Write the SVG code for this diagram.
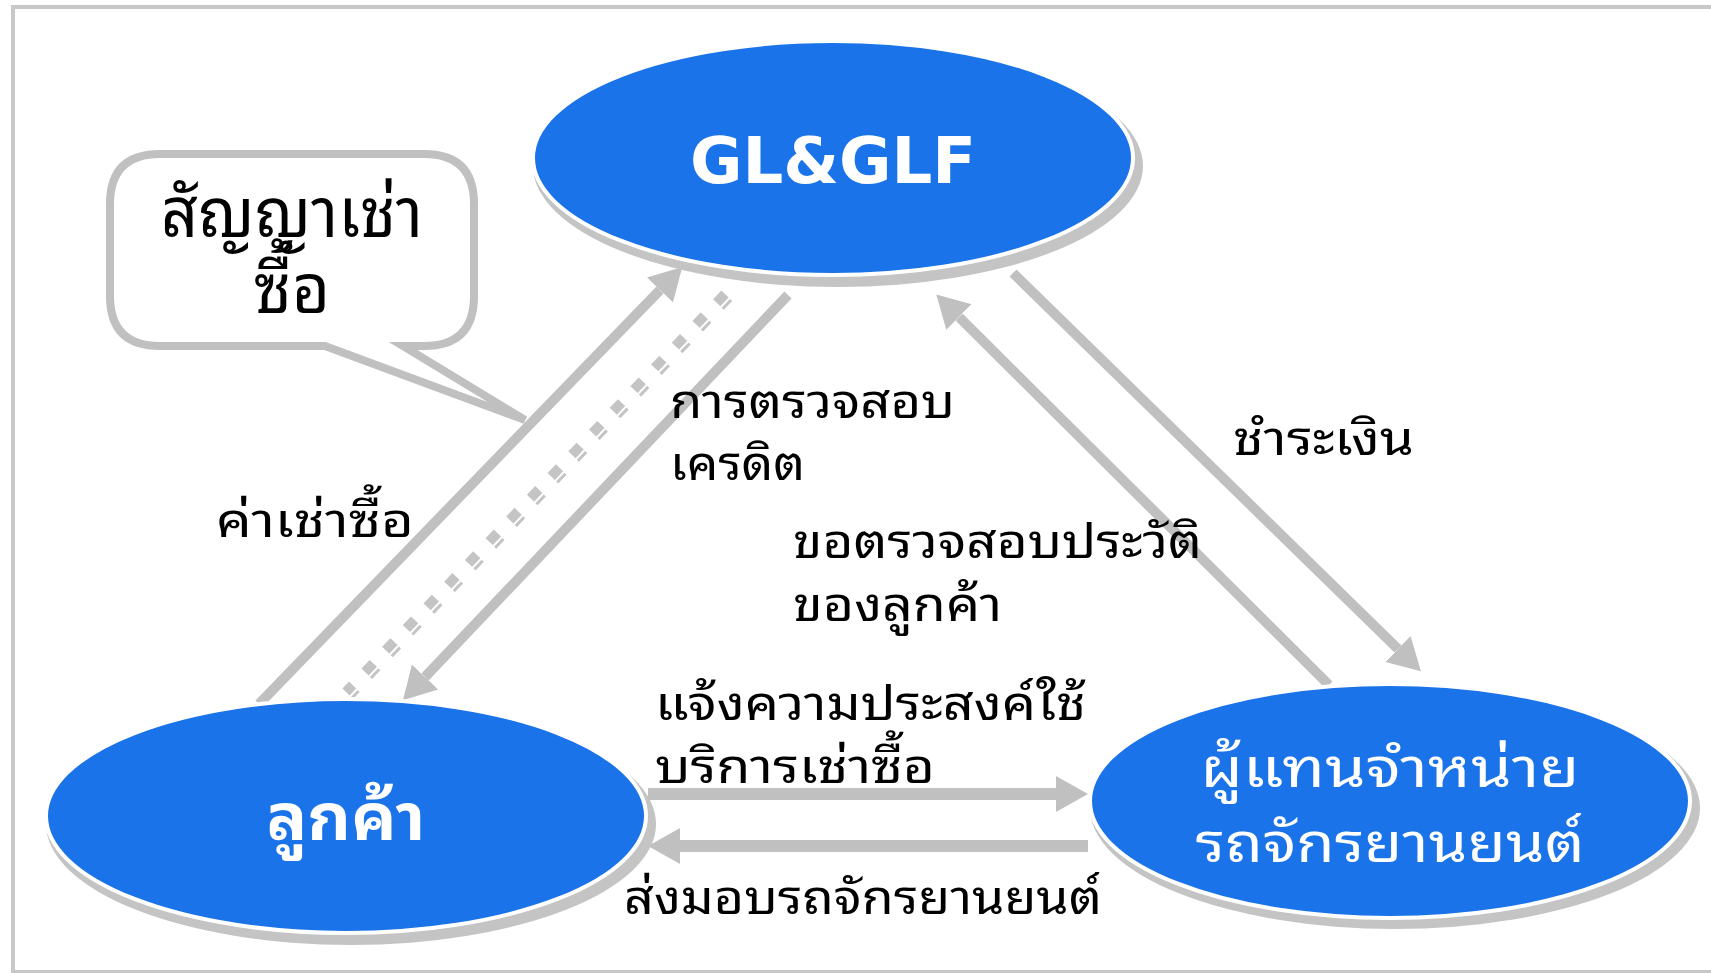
<svg xmlns="http://www.w3.org/2000/svg" width="1711" height="973" viewBox="0 0 1711 973">
<style>
.frame{fill:none;stroke:#c8c8c8;stroke-width:4}
.shadow{fill:#c4c4c4}
.node{fill:#1a73e8;stroke:#ffffff;stroke-width:4}
.conn{fill:none;stroke:#c0c0c0;stroke-width:10}
.hconn{fill:none;stroke:#c0c0c0;stroke-width:12}
.dash{fill:none;stroke:#c4c4c4;stroke-dasharray:12 18}
.lbl{font-family:"Noto Sans Thai Looped","Loma","Garuda","Umpush","Waree","Noto Sans Thai","Noto Sans","DejaVu Sans",sans-serif;font-size:48px;fill:#000000}
.wlbl{font-family:"Noto Sans Thai Looped","Loma","Garuda","Umpush","Waree","Noto Sans Thai","Noto Sans","DejaVu Sans",sans-serif;fill:#ffffff}
.callout{fill:#ffffff;stroke:#c0c0c0;stroke-width:8;stroke-linejoin:miter}
</style>
<defs>
<marker id="ah" markerUnits="userSpaceOnUse" markerWidth="34" markerHeight="38" refX="0" refY="18" orient="auto" viewBox="0 0 34 38">
<path d="M0,0 L32,18 L0,36 Z" fill="#c0c0c0"/>
</marker>
</defs>
<rect class="frame" x="13" y="7" width="1720" height="965"/>
<g id="callout">
<path class="callout" d="M160,154 H424 Q474,154 474,204 V296 Q474,346 424,346 H403 L525,420 L325,346 H160 Q110,346 110,296 V204 Q110,154 160,154 Z"/>
<text class="lbl" x="292" y="237" style="font-size:68px" text-anchor="middle" textLength="262" lengthAdjust="spacingAndGlyphs">สัญญาเช่า</text>
<text class="lbl" x="292" y="313" style="font-size:68px" text-anchor="middle" textLength="76" lengthAdjust="spacingAndGlyphs">ซื้อ</text>
</g>
<g id="connectors">
<path class="conn" d="M259,704 L660,290" marker-end="url(#ah)"/>
<path class="conn" d="M788,295 L425,677" marker-end="url(#ah)"/>
<path class="conn" d="M1329,685 L959,317" marker-end="url(#ah)"/>
<path class="conn" d="M1013,273 L1398,649" marker-end="url(#ah)"/>
<path class="hconn" d="M648,794 L1056,794" marker-end="url(#ah)"/>
<path class="hconn" d="M1088,846 L680,846" marker-end="url(#ah)"/>
<path class="dash" d="M725,294 L346,692" stroke-width="10"/>
<path class="dash" d="M731,300 L352,698" stroke-width="3"/>
</g>
<g id="labels">
<text class="lbl" x="216" y="537" textLength="198" lengthAdjust="spacingAndGlyphs">ค่าเช่าซื้อ</text>
<text class="lbl" x="670" y="418" textLength="285" lengthAdjust="spacingAndGlyphs">การตรวจสอบ</text>
<text class="lbl" x="670" y="480" textLength="135" lengthAdjust="spacingAndGlyphs">เครดิต</text>
<text class="lbl" x="793" y="558" textLength="409" lengthAdjust="spacingAndGlyphs">ขอตรวจสอบประวัติ</text>
<text class="lbl" x="793" y="621" textLength="209" lengthAdjust="spacingAndGlyphs">ของลูกค้า</text>
<text class="lbl" x="1233" y="455" textLength="181" lengthAdjust="spacingAndGlyphs">ชำระเงิน</text>
<text class="lbl" x="655" y="720" textLength="431" lengthAdjust="spacingAndGlyphs">แจ้งความประสงค์ใช้</text>
<text class="lbl" x="655" y="783" textLength="280" lengthAdjust="spacingAndGlyphs">บริการเช่าซื้อ</text>
<text class="lbl" x="624" y="914" textLength="478" lengthAdjust="spacingAndGlyphs">ส่งมอบรถจักรยานยนต์</text>
</g>
<g id="node-glglf">
<ellipse class="shadow" cx="838" cy="166" rx="305" ry="121"/>
<ellipse class="node" cx="833" cy="158" rx="300" ry="117"/>
<text x="833" y="183" text-anchor="middle" font-family="'DejaVu Sans',Verdana,sans-serif" font-weight="bold" font-size="64" fill="#ffffff">GL&amp;GLF</text>
</g>
<g id="node-customer">
<ellipse class="shadow" cx="351" cy="824" rx="305" ry="121"/>
<ellipse class="node" cx="346" cy="816" rx="300" ry="117"/>
<text class="wlbl" x="346" y="840" text-anchor="middle" font-size="64" font-weight="bold" textLength="159" lengthAdjust="spacingAndGlyphs">ลูกค้า</text>
</g>
<g id="node-dealer">
<ellipse class="shadow" cx="1395" cy="808" rx="305" ry="121"/>
<ellipse class="node" cx="1390" cy="801" rx="300" ry="117"/>
<text class="wlbl" x="1390" y="787" text-anchor="middle" font-size="54" textLength="379" lengthAdjust="spacingAndGlyphs">ผู้แทนจำหน่าย</text>
<text class="wlbl" x="1390" y="862" text-anchor="middle" font-size="54" textLength="389" lengthAdjust="spacingAndGlyphs">รถจักรยานยนต์</text>
</g>
</svg>
